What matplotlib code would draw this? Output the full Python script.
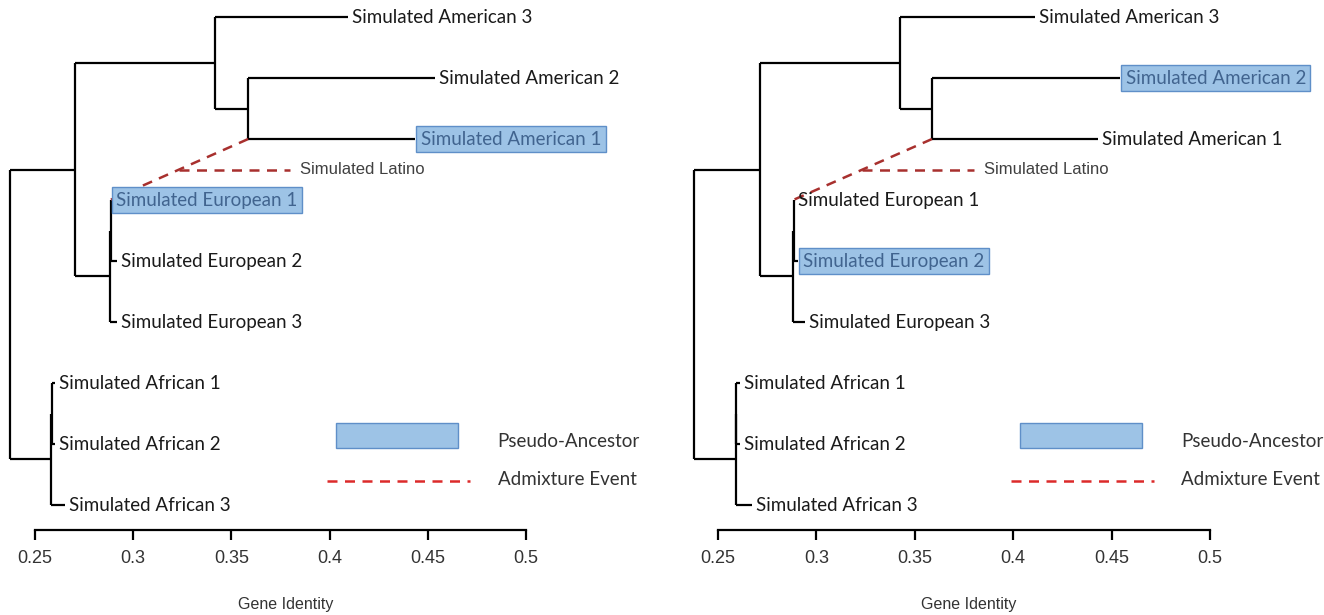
import matplotlib
matplotlib.use("Agg")
import matplotlib.pyplot as plt
from matplotlib.patches import Rectangle

# leaves, top to bottom
leaf_names = ["Simulated American 3", "Simulated American 2", "Simulated American 1",
              "Simulated European 1", "Simulated European 2", "Simulated European 3",
              "Simulated African 1", "Simulated African 2", "Simulated African 3"]

# merges in linkage order; indices >= 9 refer to earlier merges
merge_pairs = [(1, 2), (3, 4), (6, 7), (0, 9), (10, 5), (11, 8), (12, 13), (15, 14)]

# gene identity of each leaf tip and of each merge, one set per tree
left_tips = [0.4094, 0.4537, 0.4435, 0.2885, 0.2915, 0.2918, 0.2602, 0.2602, 0.2653]
left_merges = [0.3585, 0.2887, 0.2585, 0.3417, 0.2882, 0.2580, 0.2704, 0.2373]
right_tips = [0.4110, 0.4543, 0.4430, 0.2885, 0.2905, 0.2942, 0.2612, 0.2612, 0.2673]
right_merges = [0.3587, 0.2885, 0.2594, 0.3425, 0.2881, 0.2591, 0.2713, 0.2378]

# admixture: latino branch between American 1 and European 1
latino_name = "Simulated Latino"
latino_tip = 0.380
left_ancestors = ["Simulated American 1", "Simulated European 1"]
right_ancestors = ["Simulated American 2", "Simulated European 2"]

ticks = [0.25, 0.3, 0.35, 0.4, 0.45, 0.5]
tick_labels = ["0.25", "0.3", "0.35", "0.4", "0.45", "0.5"]

legend_box = (0.4033, 0.4654)
legend_dash = (0.3987, 0.4715)

LEAF_FONT = ["Lato", "DejaVu Sans"]
ARIAL = ["Liberation Sans", "DejaVu Sans"]
BOX_FC = "#9dc3e6"
BOX_EC = "#5f8fc8"
TREE_RED = "#a8302e"
LEG_RED = "#dc2a2a"
LEAF_SIZE = 13.5


def draw_tree(ax, tips, merges, ancestors):
    n = len(tips)
    xs = list(tips)
    ys = list(range(n))
    for (a, b), h in zip(merge_pairs, merges):
        ax.plot([h, h], [ys[a], ys[b]], color="black", lw=1.6, solid_capstyle="butt")
        ax.plot([h, xs[a]], [ys[a], ys[a]], color="black", lw=1.6, solid_capstyle="butt")
        ax.plot([h, xs[b]], [ys[b], ys[b]], color="black", lw=1.6, solid_capstyle="butt")
        xs.append(h)
        ys.append((ys[a] + ys[b]) / 2)

    for i, name in enumerate(leaf_names):
        if name in ancestors:
            ax.annotate(name, (tips[i], i), xytext=(4, 0), textcoords="offset points",
                        ha="left", va="center", fontsize=LEAF_SIZE, family=LEAF_FONT,
                        color="#41648f",
                        bbox=dict(boxstyle="square,pad=0.24", fc=BOX_FC, ec=BOX_EC, lw=1))
        else:
            ax.annotate(name, (tips[i], i), xytext=(3, 0), textcoords="offset points",
                        ha="left", va="center", fontsize=LEAF_SIZE, family=LEAF_FONT,
                        color="#1a1a1a")

    # admixture event: from the American 1/2 node down to European 1
    am_node = merges[0]
    eu_x = merges[4]
    x0, y0 = am_node, 2
    x1, y1 = eu_x, 3
    ax.plot([x0, x1], [y0, y1], color=TREE_RED, lw=1.8, ls=(0, (4, 3)))
    mx, my = (x0 + x1) / 2, (y0 + y1) / 2
    ax.plot([mx, latino_tip], [my, my], color=TREE_RED, lw=1.8, ls=(0, (4, 3)))
    ax.annotate(latino_name, (latino_tip, my), xytext=(7, 0), textcoords="offset points",
                ha="left", va="center", fontsize=12, family=ARIAL, color="#404040")

    # legend
    ax.add_patch(Rectangle((legend_box[0], 6.66), legend_box[1] - legend_box[0], 0.41,
                           fc=BOX_FC, ec=BOX_EC, lw=1))
    ax.text(0.4855, 6.95, "Pseudo-Ancestor", ha="left", va="center", fontsize=LEAF_SIZE,
            family=LEAF_FONT, color="#333333")
    ax.plot(legend_dash, [7.6, 7.6], color=LEG_RED, lw=1.8, ls=(0, (4, 3)))
    ax.text(0.4855, 7.58, "Admixture Event", ha="left", va="center", fontsize=LEAF_SIZE,
            family=LEAF_FONT, color="#333333")

    # R-style axis below the tree
    for s in ["top", "left", "right"]:
        ax.spines[s].set_visible(False)
    ax.spines["bottom"].set_position(("data", 8.41))
    ax.spines["bottom"].set_bounds(0.25, 0.5)
    ax.spines["bottom"].set_linewidth(1.6)
    ax.set_xticks(ticks)
    ax.set_xticklabels(tick_labels, family=ARIAL, fontsize=13, color="#333333")
    ax.tick_params(axis="x", direction="out", length=7.5, width=1.6, pad=7)
    ax.set_yticks([])
    ax.text(0.3775, 9.62, "Gene Identity", ha="center", va="center", fontsize=11.5,
            family=ARIAL, color="#333333")
    ax.set_ylim(9.80, -0.279)
    ax.patch.set_visible(False)


fig = plt.figure(figsize=(13.24, 6.15), dpi=100)
W, H = 1324.0, 615.0

ax1 = fig.add_axes([0, 0, 660 / W, 1])
ax1.set_xlim(0.25 - 35 / 1964, 0.25 + (660 - 35) / 1964)
draw_tree(ax1, left_tips, left_merges, left_ancestors)

ax2 = fig.add_axes([664 / W, 0, 660 / W, 1])
ax2.set_xlim(0.25 - (718 - 664) / 1968, 0.25 + (1324 - 718) / 1968)
draw_tree(ax2, right_tips, right_merges, right_ancestors)

fig.savefig("out.png", dpi=100, facecolor="white")
